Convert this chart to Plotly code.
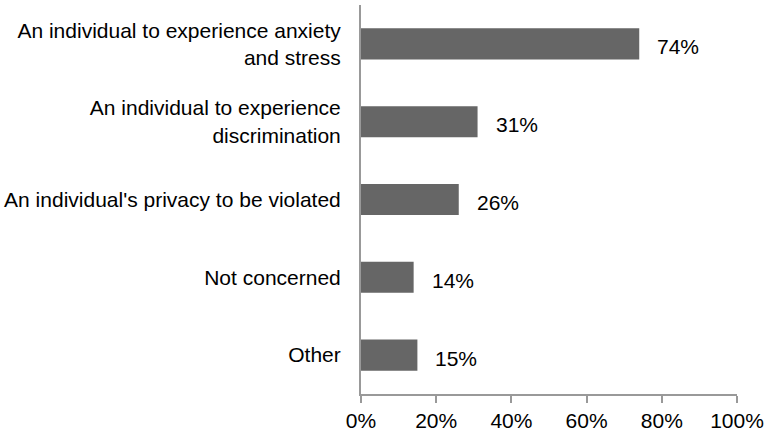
import plotly.graph_objects as go

categories = [
    "An individual to experience anxiety<br>and stress",
    "An individual to experience<br>discrimination",
    "An individual's privacy to be violated",
    "Not concerned",
    "Other",
]
values = [0.74, 0.31, 0.26, 0.14, 0.15]
tick_vals = [0, 0.2, 0.4, 0.6, 0.8, 1.0]
tick_text = ["0%", "20%", "40%", "60%", "80%", "100%"]
labels = [f"{round(v*100)}%" for v in values]

font = dict(family="Liberation Sans, Arial, sans-serif", size=21, color="#000000")

fig = go.Figure(go.Bar(
    x=values, y=categories, orientation="h",
    marker=dict(color="#666666", line=dict(width=0)),
    hoverinfo="skip",
))

for c, v, t in zip(categories, values, labels):
    fig.add_annotation(x=v, y=c, text=t, showarrow=False, xanchor="left",
                       yanchor="middle", xshift=16, yshift=-3, font=font)

fig.update_layout(
    template="none",
    width=767, height=445,
    margin=dict(l=361, r=30, t=5, b=51, pad=0),
    paper_bgcolor="white", plot_bgcolor="white",
    bargap=0.6, showlegend=False, font=font,
)
fig.update_xaxes(
    range=[0, 1], tickvals=tick_vals, ticktext=tick_text, automargin=False,
    showgrid=False, zeroline=False, showline=True, linecolor="#999999", linewidth=2,
    ticks="outside", ticklen=7, tickcolor="#999999", tickwidth=2,
    tickfont=font, fixedrange=True,
)
fig.update_yaxes(
    categoryorder="array", categoryarray=categories[::-1], automargin=False,
    showgrid=False, zeroline=False, showline=True, linecolor="#999999", linewidth=2,
    ticks="", tickfont=font, ticklabelstandoff=14, fixedrange=True,
)

fig.write_html("out.html", config={"displayModeBar": False},
               post_script="document.body.style.margin='0';document.body.style.overflow='hidden';")
